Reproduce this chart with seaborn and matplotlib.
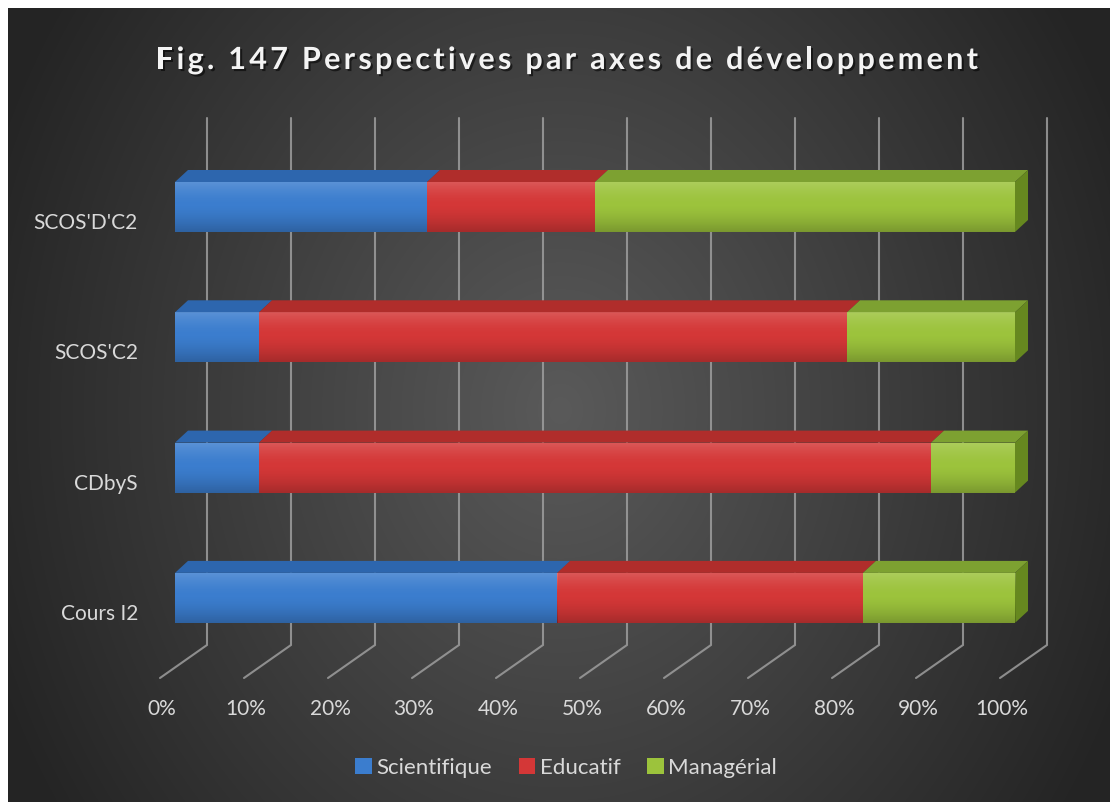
import numpy as np
import pandas as pd
import matplotlib
matplotlib.use("Agg")
import matplotlib.pyplot as plt
import seaborn as sns
from matplotlib import font_manager
from matplotlib.ft2font import FT2Font
from matplotlib.patches import Polygon, Patch
from matplotlib.transforms import ScaledTranslation
import matplotlib.patheffects as pe

# ---------------------------------------------------------------- data
categories = ["SCOS'D'C2", "SCOS'C2", "CDbyS", "Cours I2"]
scientifique = [30.0, 10.0, 10.0, 45.5]
educatif = [20.0, 70.0, 80.0, 36.4]
managerial = [50.0, 20.0, 10.0, 18.1]
series_names = ["Scientifique", "Educatif", "Managérial"]
tick_values = [0, 10, 20, 30, 40, 50, 60, 70, 80, 90, 100]
tick_labels = [f"{v}%" for v in tick_values]
title = "Fig. 147 Perspectives par axes de développement"

# ---------------------------------------------------------------- style
sns.set_style("white")
plt.rcParams["font.family"] = ["Lato", "DejaVu Sans"]
TEXT = "#d9d9d9"

front_cols = ["#3b7dce", "#d43737", "#9cc33c"]
top_cols = ["#2d66ae", "#b02d2b", "#7da131"]
side_col = "#66881f"

W, H, DPI = 1110, 802, 100
# pixel geometry of the projected 3-D frame
X0PX, PXU = 175.0, 8.4      # x position of 0 % and pixels per percent
Y0PX, PXC = 207.0, 130.3    # centre of first bar and pixels per category
L, R, T, B = 150, 1060, 110, 700


def dxu(px):
    return px / PXU


def dyu(px):
    return px / PXC


fig = plt.figure(figsize=(W / DPI, H / DPI), dpi=DPI, facecolor="white")

# dark radial background
bg = fig.add_axes([8 / W, 0, (W - 8) / W, (H - 8) / H], zorder=-10)
yy, xx = np.mgrid[8:H, 8:W].astype(float)
r = np.sqrt(((xx - 560) / 590) ** 2 + ((yy - 410) / 700) ** 2)
v = np.clip(90 - 52 * r, 36, 90) / 255.0
bg.imshow(np.dstack([v, v, v]), aspect="auto", interpolation="bilinear")
bg.axis("off")

ax = fig.add_axes([L / W, (H - B) / H, (R - L) / W, (B - T) / H])
ax.set_facecolor("none")

df = pd.DataFrame({
    "categorie": categories,
    "Scientifique": scientifique,
    "Educatif": educatif,
    "Managérial": managerial,
})
df["c1"] = df["Scientifique"]
df["c2"] = df["c1"] + df["Educatif"]
df["c3"] = df["c2"] + df["Managérial"]

BAR_W = 50 / PXC
HW = BAR_W / 2

# back wall gridlines and floor lines
for tv in tick_values:
    xb = tv + dxu(32)
    xf = tv + dxu(-15)
    ax.plot([xb, xb, xf],
            [(118 - Y0PX) / PXC, (645 - Y0PX) / PXC, (678 - Y0PX) / PXC],
            color="#9e9e9e", lw=1.5, zorder=1, clip_on=False,
            solid_joinstyle="miter", alpha=0.85)

# stacked bars: cumulative totals drawn back to front
for col, color in [("c3", front_cols[2]), ("c2", front_cols[1]), ("c1", front_cols[0])]:
    sns.barplot(data=df, x=col, y="categorie", orient="h", color=color,
                width=BAR_W, saturation=1, errorbar=None, linewidth=0,
                ax=ax, zorder=3)

# shading of the front faces, top faces and end faces
grad_n = 64
t = np.linspace(0, 1, grad_n)
shade = np.zeros((grad_n, 1, 4))
light = t < 0.45
shade[light, 0, :3] = 1.0
shade[light, 0, 3] = 0.16 * (1 - t[light] / 0.45) ** 1.5
shade[~light, 0, :3] = 0.0
shade[~light, 0, 3] = 0.22 * ((t[~light] - 0.45) / 0.55) ** 1.5

ddx, ddy = dxu(13), dyu(12)
for i, row in df.iterrows():
    starts = [0.0, row["c1"], row["c2"]]
    ends = [row["c1"], row["c2"], row["c3"]]
    yt, yb = i - HW, i + HW
    for s, e, tc in zip(starts, ends, top_cols):
        ax.imshow(shade, extent=(s, e, yb, yt), origin="upper",
                  aspect="auto", zorder=3.5, interpolation="bilinear")
        ax.add_patch(Polygon([(s, yt), (e, yt), (e + ddx, yt - ddy), (s + ddx, yt - ddy)],
                             closed=True, facecolor=tc, edgecolor="none", zorder=3))
    end = row["c3"]
    ax.add_patch(Polygon([(end, yt), (end, yb), (end + ddx, yb - ddy), (end + ddx, yt - ddy)],
                         closed=True, facecolor=side_col, edgecolor="none", zorder=3))

ax.set_xlim((L - X0PX) / PXU, (R - X0PX) / PXU)
ax.set_ylim((B - Y0PX) / PXC, (T - Y0PX) / PXC)
for s in ax.spines.values():
    s.set_visible(False)
ax.grid(False)
ax.set_xlabel("")
ax.set_ylabel("")

ax.set_yticks(range(len(categories)), categories)
ax.set_xticks(tick_values, tick_labels)
ax.tick_params(axis="y", length=0, pad=12 * 72 / DPI, labelsize=15, labelcolor=TEXT)
ax.tick_params(axis="x", length=0, pad=0, labelsize=15, labelcolor=TEXT)
for lab in ax.get_yticklabels():
    lab.set_transform(lab.get_transform() + ScaledTranslation(0, -14 / DPI, fig.dpi_scale_trans))
for lab in ax.get_xticklabels():
    lab.set_transform(lab.get_transform() + ScaledTranslation(-13 / DPI, 1 / DPI, fig.dpi_scale_trans))

# legend
handles = [Patch(facecolor=c, edgecolor="none", label=n) for c, n in zip(front_cols, series_names)]
fig.legend(handles=handles, loc="center", bbox_to_anchor=(566 / W, 1 - 768 / H),
           ncol=3, frameon=False, handlelength=0.75, handleheight=0.75,
           handletextpad=0.2, columnspacing=1.2, fontsize=16, labelcolor=TEXT)

# letter-spaced bold title with a soft shadow
tsize = 22
fp = font_manager.FontProperties(family="Lato", weight="bold", size=tsize)
ft = FT2Font(font_manager.findfont(fp))
ft.set_size(tsize, DPI)
advs = [ft.load_char(ord(ch)).linearHoriAdvance / 65536 for ch in title]
left_px, right_px, base_px = 156, 978, 69
gap = (right_px - left_px - sum(advs)) / (len(title) - 1)
xpos = left_px
for ch, a in zip(title, advs):
    fig.text(xpos / W, 1 - base_px / H, ch, fontproperties=fp, color="#f4f4f4",
             ha="left", va="baseline",
             path_effects=[pe.withSimplePatchShadow(offset=(1.5, -1.5),
                                                    shadow_rgbFace="black", alpha=0.55)])
    xpos += a + gap

fig.savefig("out.png", dpi=DPI)
